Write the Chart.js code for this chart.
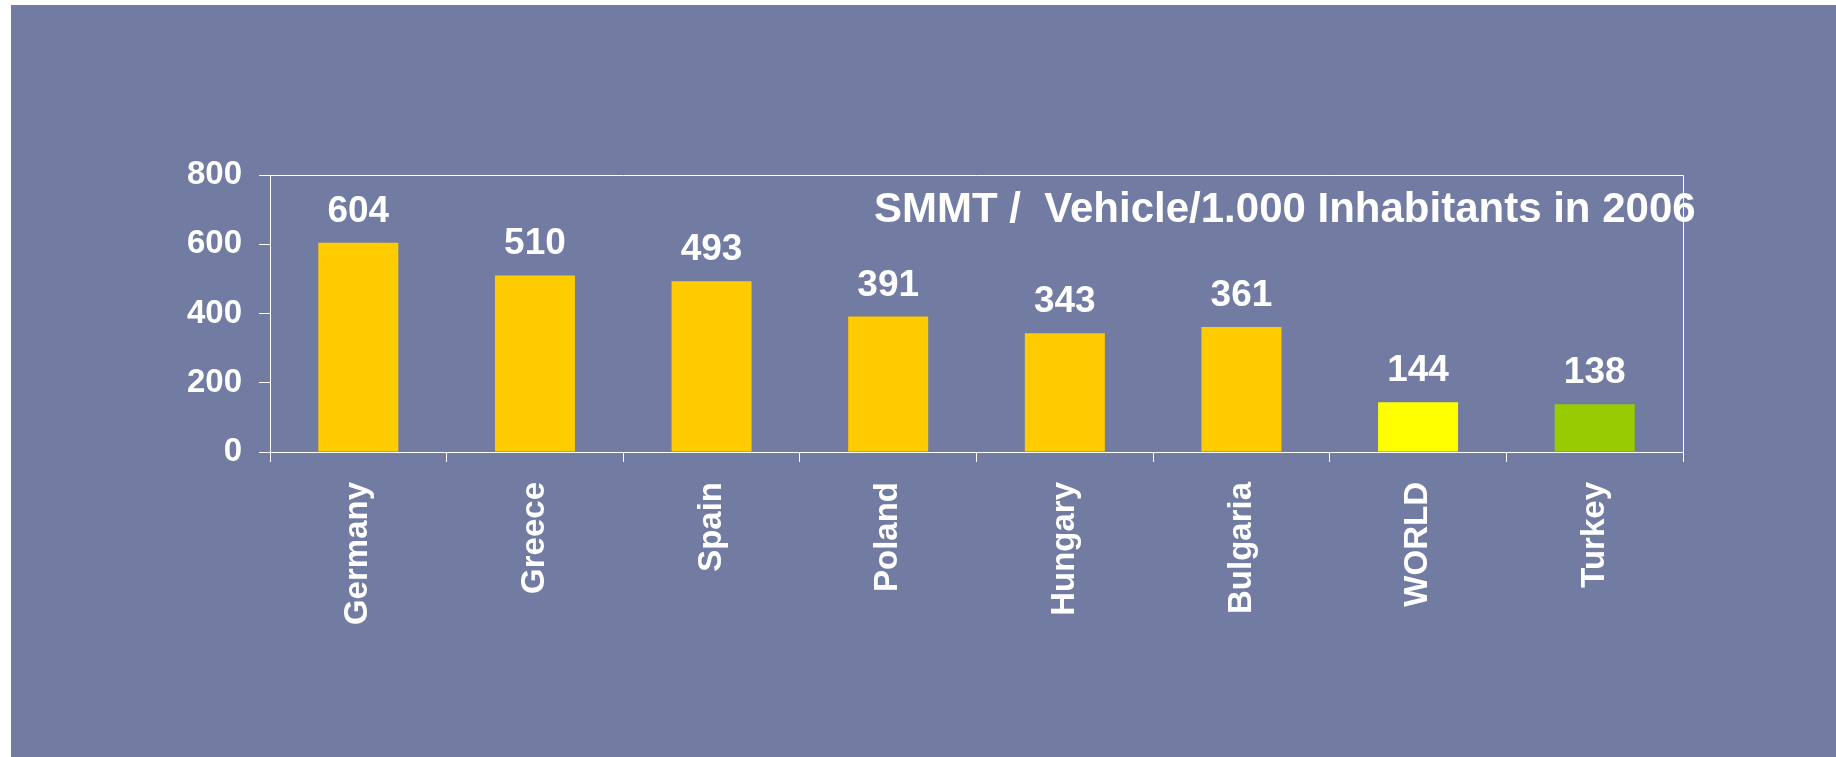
<!DOCTYPE html>
<html>
<head>
<meta charset="utf-8">
<script src="https://cdn.jsdelivr.net/npm/chart.js@4"></script>
<style>
    html, body { margin: 0; padding: 0; background: #ffffff; }
    #box {
        position: absolute;
        left: 11px; top: 5px;
        width: 1825px; height: 752px;
        background: #727ba1;
    }
</style>
</head>
<body>
<div id="box"><canvas id="myChart"></canvas></div>
<script>
var countries = ['Germany', 'Greece', 'Spain', 'Poland', 'Hungary', 'Bulgaria', 'WORLD', 'Turkey'];
var vehicles = [604, 510, 493, 391, 343, 361, 144, 138];
var barColors = ['#ffcc00', '#ffcc00', '#ffcc00', '#ffcc00', '#ffcc00', '#ffcc00', '#ffff00', '#99cc00'];
var yTicks = [0, 200, 400, 600, 800];
var chartTitle = 'SMMT /  Vehicle/1.000 Inhabitants in 2006';

var fontFamily = '"Liberation Sans", Arial, Helvetica, sans-serif';

// frame on top + right, title inside the plot, values above bars
var extrasPlugin = {
    id: 'extras',
    afterDraw: function (chart) {
        var ctx = chart.ctx;
        var area = chart.chartArea;
        ctx.save();
        ctx.strokeStyle = '#ffffff';
        ctx.lineWidth = 1;
        ctx.beginPath();
        ctx.moveTo(area.left, Math.round(area.top) + 0.5);
        ctx.lineTo(Math.round(area.right) + 0.5, Math.round(area.top) + 0.5);
        ctx.lineTo(Math.round(area.right) + 0.5, area.bottom);
        ctx.stroke();

        ctx.fillStyle = '#ffffff';
        ctx.font = 'bold 42px ' + fontFamily;
        ctx.textAlign = 'left';
        ctx.textBaseline = 'alphabetic';
        ctx.fillText(chartTitle, area.left + 604, area.top + 47);

        ctx.font = 'bold 37px ' + fontFamily;
        ctx.textAlign = 'center';
        chart.getDatasetMeta(0).data.forEach(function (bar, i) {
            ctx.fillText(String(vehicles[i]), bar.x, bar.y - 21);
        });
        ctx.restore();
    }
};

var ctx = document.getElementById('myChart').getContext('2d');
var myChart = new Chart(ctx, {
    type: 'bar',
    data: {
        labels: countries,
        datasets: [{
            label: 'Vehicle/1.000 Inhabitants',
            data: vehicles,
            backgroundColor: barColors,
            borderWidth: 0,
            categoryPercentage: 1,
            barPercentage: 0.453
        }]
    },
    options: {
        responsive: true,
        maintainAspectRatio: false,
        animation: false,
        layout: {
            padding: { left: 129, top: 170, right: 153, bottom: 80 }
        },
        plugins: {
            legend: { display: false },
            tooltip: { enabled: false }
        },
        scales: {
            x: {
                grid: {
                    offset: true,
                    drawOnChartArea: false,
                    color: '#ffffff',
                    tickLength: 10,
                    lineWidth: 1
                },
                border: { color: '#ffffff', width: 1 },
                ticks: {
                    color: '#ffffff',
                    font: { family: fontFamily, size: 33, weight: 'bold' },
                    minRotation: 90,
                    maxRotation: 90,
                    autoSkip: false,
                    padding: 20
                },
                afterFit: function (axis) { axis.height = 225; }
            },
            y: {
                min: 0,
                max: 800,
                afterBuildTicks: function (axis) {
                    axis.ticks = yTicks.map(function (v) { return { value: v }; });
                },
                grid: {
                    drawOnChartArea: false,
                    color: '#ffffff',
                    tickLength: 11,
                    lineWidth: 1
                },
                border: { color: '#ffffff', width: 1 },
                ticks: {
                    color: '#ffffff',
                    font: { family: fontFamily, size: 33, weight: 'bold' },
                    padding: 17
                },
                afterFit: function (axis) { axis.width = 130; }
            }
        }
    },
    plugins: [extrasPlugin]
});
</script>
</body>
</html>
